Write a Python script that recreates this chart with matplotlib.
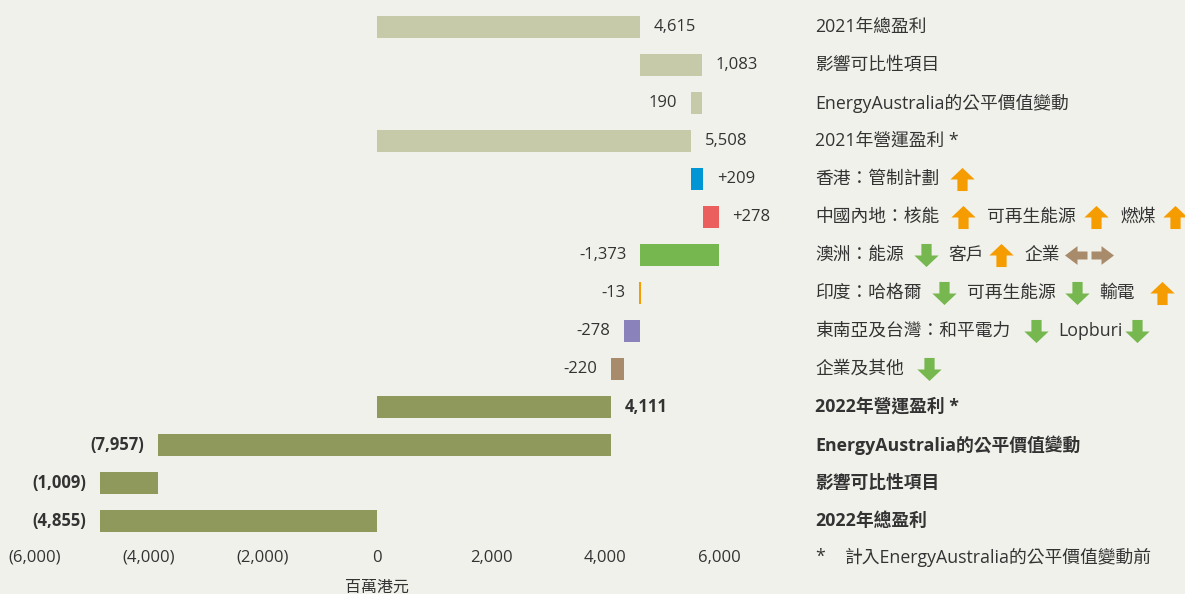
import matplotlib.pyplot as plt
from matplotlib.path import Path
from matplotlib.transforms import blended_transform_factory

plt.rcParams['font.family'] = ['Open Sans', 'Noto Sans CJK TC', 'DejaVu Sans']

# waterfall data (HK$ million)
categories = ["2021年總盈利", "影響可比性項目", "EnergyAustralia的公平價值變動", "2021年營運盈利 *",
              "香港：管制計劃", "中國內地：核能", "澳洲：能源", "印度：哈格爾",
              "東南亞及台灣：和平電力", "企業及其他",
              "2022年營運盈利 *", "EnergyAustralia的公平價值變動", "影響可比性項目", "2022年總盈利"]
starts = [0, 4615, 5698, 0, 5508, 5717, 5995, 4622, 4609, 4331, 0, 4111, -3846, 0]
ends = [4615, 5698, 5508, 5508, 5717, 5995, 4622, 4609, 4331, 4111, 4111, -3846, -4855, -4855]
value_labels = ["4,615", "1,083", "190", "5,508", "+209", "+278", "-1,373", "-13", "-278", "-220",
                "4,111", "(7,957)", "(1,009)", "(4,855)"]
label_side = ["r", "r", "l", "r", "r", "r", "l", "l", "l", "l", "r", "l", "l", "l"]
bold_rows = [10, 11, 12, 13]
colors = ["#c7caa9", "#c7caa9", "#c7caa9", "#c7caa9", "#0096d6", "#ec5f5f", "#76b74f", "#f59c00",
          "#8a82bb", "#a88b6a", "#8f995b", "#8f995b", "#8f995b", "#8f995b"]
xticks = [-6000, -4000, -2000, 0, 2000, 4000, 6000]
xticklabels = ["(6,000)", "(4,000)", "(2,000)", "0", "2,000", "4,000", "6,000"]

# extra label pieces and arrow icons: (row, x pixel, text) / (row, x pixel, kind)
extra_text = [(5, 987, "可再生能源"), (5, 1120, "燃煤"),
              (6, 948, "客戶"), (6, 1024, "企業"),
              (7, 967, "可再生能源"), (7, 1099, "輸電"),
              (8, 1058, "Lopburi")]
arrows = [(4, 962, "up"),
          (5, 963, "up"), (5, 1096, "up"), (5, 1175, "up"),
          (6, 926, "down"), (6, 1001, "up"), (6, 1077, "left"), (6, 1101, "right"),
          (7, 944, "down"), (7, 1077, "down"), (7, 1162, "up"),
          (8, 1036, "down"), (8, 1137, "down"),
          (9, 929, "down")]
arrow_colors = {"up": "#f59c00", "down": "#76b74f", "left": "#a88b6a", "right": "#a88b6a"}

bg = "#f1f1ec"
txt = "#333333"
W, H = 1185, 594
fig = plt.figure(figsize=(W / 100, H / 100), dpi=100, facecolor=bg)

px_per = 0.057
x0 = 377
ax = fig.add_axes([0, (H - 540) / H, 800 / W, 540 / H])
ax.set_facecolor(bg)
ax.set_xlim((0 - x0) / px_per, (800 - x0) / px_per)
ax.set_ylim((540 - 27) / 38, -27 / 38)

n = len(categories)
for i in range(n):
    left = min(starts[i], ends[i])
    width = abs(ends[i] - starts[i])
    if width < 40:
        width = 40
        left = ends[i] - 20
    ax.barh(i, width, left=left, height=0.6, color=colors[i], linewidth=0)
    w = "bold" if i in bold_rows else "normal"
    if label_side[i] == "r":
        ax.annotate(value_labels[i], (max(starts[i], ends[i]), i), xytext=(10, 0),
                    textcoords="offset points", ha="left", va="center", fontsize=12,
                    color=txt, fontweight=w)
    else:
        ax.annotate(value_labels[i], (min(starts[i], ends[i]), i), xytext=(-10, 0),
                    textcoords="offset points", ha="right", va="center", fontsize=12,
                    color=txt, fontweight=w)

for s in ax.spines.values():
    s.set_visible(False)
ax.set_yticks([])
ax.set_xticks(xticks)
ax.set_xticklabels(xticklabels, fontsize=12, color=txt)
ax.tick_params(axis="x", length=0, pad=7)
ax.text(0, 14.75, "百萬港元", ha="center", va="center", fontsize=11.5, color=txt)

trans = blended_transform_factory(fig.transFigure, ax.transData)
lx = 815 / W
fs = 12.8
for i, c in enumerate(categories):
    w = "bold" if i in bold_rows else "normal"
    ax.text(lx, i, c, transform=trans, ha="left", va="center", fontsize=fs,
            color=txt, fontweight=w, clip_on=False)
for r, px, t in extra_text:
    ax.text(px / W, r, t, transform=trans, ha="left", va="center", fontsize=fs,
            color=txt, clip_on=False)

up_verts = [(-1, 0.0), (0, 0.95), (1, 0.0), (0.42, 0.0), (0.42, -0.95),
            (-0.42, -0.95), (-0.42, 0.0), (-1, 0.0)]
lr_verts = [(-0.75, 0.0), (0, 1.0), (0.75, 0.0), (0.32, 0.0), (0.32, -0.8),
            (-0.32, -0.8), (-0.32, 0.0), (-0.75, 0.0)]
paths = {
    "up": Path(up_verts, closed=True),
    "down": Path([(x, -y) for x, y in up_verts], closed=True),
    "left": Path([(-y, x) for x, y in lr_verts], closed=True),
    "right": Path([(y, x) for x, y in lr_verts], closed=True),
}
sizes = {"up": 17.5, "down": 17.5, "left": 18, "right": 18}
for r, px, kind in arrows:
    ax.plot([px / W], [r], marker=paths[kind], markersize=sizes[kind], color=arrow_colors[kind],
            markeredgewidth=0, transform=trans, clip_on=False, linestyle="none")

# footnote
fig.text(815 / W, 1 - 557 / H, "*", ha="left", va="center", fontsize=fs, color=txt)
fig.text(845 / W, 1 - 557 / H, "計入EnergyAustralia的公平價值變動前", ha="left", va="center",
         fontsize=fs, color=txt)

fig.savefig("out.png", dpi=100, facecolor=bg)
